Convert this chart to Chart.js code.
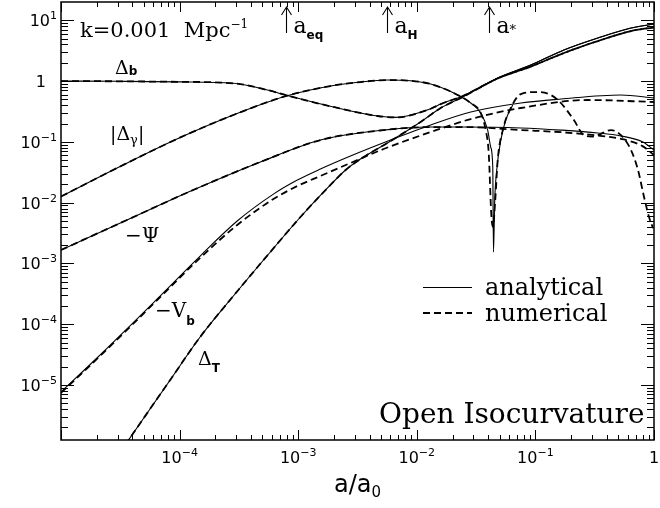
<!DOCTYPE html>
<html>
<head>
<meta charset="utf-8">
<script src="https://cdn.jsdelivr.net/npm/chart.js@4.4.1/dist/chart.umd.min.js"></script>
<style>
  html, body { margin: 0; padding: 0; background: #fff; }
</style>
</head>
<body>
<canvas id="c" width="660" height="508"></canvas>
<script>
// values (x = a/a0)
const dbX = [1e-5, 3.15e-5, 9.9e-5, 2.84e-4, 5.5e-4, 8.1e-4, 1.98e-3, 4.67e-3, 6.62e-3, 1.31e-2, 1.59e-2, 2.44e-2, 4.81e-2, 9.14e-2, 0.174, 0.336, 0.640, 1];
const dbAnal = [1.0, 0.989, 0.970, 0.917, 0.711, 0.577, 0.374, 0.266, 0.252, 0.35, 0.418, 0.567, 1.12, 1.83, 3.24, 5.10, 7.44, 8.66];
const dbNum  = [1.0, 0.989, 0.970, 0.917, 0.711, 0.577, 0.374, 0.266, 0.252, 0.35, 0.418, 0.567, 1.10, 1.73, 2.89, 4.55, 6.64, 7.64];

const dtX = [3.47e-5, 8.33e-5, 1.49e-4, 2.84e-4, 5.82e-4, 1.045e-3, 1.87e-3, 2.51e-3, 3.35e-3, 6.01e-3, 1.076e-2, 1.59e-2, 2.44e-2, 4.81e-2, 9.14e-2, 0.174, 0.336, 0.640, 1];
const dtAnal = [1.03e-6, 1.21e-5, 6.16e-5, 2.91e-4, 1.54e-3, 5.8e-3, 0.0195, 0.0344, 0.0521, 0.103, 0.212, 0.360, 0.546, 1.12, 1.83, 3.24, 5.10, 7.44, 8.66];
const dtNum  = [1.03e-6, 1.21e-5, 6.16e-5, 2.91e-4, 1.54e-3, 5.8e-3, 0.0195, 0.0344, 0.0521, 0.103, 0.212, 0.360, 0.546, 1.10, 1.73, 2.89, 4.55, 6.64, 7.64];

const dgX = [1e-5, 3.15e-5, 9.9e-5, 3.13e-4, 7.94e-4, 1.87e-3, 3.35e-3, 5.66e-3, 8.87e-3, 1.31e-2, 2.05e-2, 2.85e-2, 3.46e-2, 3.96e-2, 4.2e-2, 4.37e-2, 4.43e-2, 4.54e-2, 4.72e-2, 5.11e-2, 5.62e-2, 6.44e-2];
const dgAnal = [0.0126, 0.0393, 0.1155, 0.298, 0.567, 0.828, 0.963, 1.038, 1.01, 0.893, 0.635, 0.435, 0.298, 0.156, 0.082, 0.0385, 0.00154, 0.011, 0.0344, 0.107, 0.228, 0.403];
const dgNumX = [1e-5, 3.15e-5, 9.9e-5, 3.13e-4, 7.94e-4, 1.87e-3, 3.35e-3, 5.66e-3, 8.87e-3, 1.31e-2, 2.05e-2, 2.85e-2, 3.46e-2, 3.81e-2, 4.04e-2, 4.25e-2, 4.38e-2, 4.6e-2, 4.81e-2, 5.31e-2, 6.2e-2, 7.54e-2, 0.1047, 0.135, 0.164, 0.211, 0.256, 0.30, 0.336, 0.434, 0.526, 0.640, 0.733, 0.824, 0.908, 0.982];
const dgNum  = [0.0126, 0.0393, 0.1155, 0.298, 0.567, 0.828, 0.963, 1.038, 1.01, 0.893, 0.635, 0.435, 0.298, 0.156, 0.0654, 0.00625, 0.004, 0.012, 0.0502, 0.156, 0.36, 0.611, 0.659, 0.589, 0.435, 0.228, 0.129, 0.122, 0.129, 0.156, 0.129, 0.0733, 0.0344, 0.0124, 0.0058, 0.0038];

const psiX = [1e-5, 3.6e-5, 1.3e-4, 4.8e-4, 1.54e-3, 5.25e-3, 1.31e-2, 2.48e-2, 7.54e-2, 0.164, 0.336, 0.526, 0.8, 1];
const psiAnal = [0.00166, 0.00518, 0.0161, 0.0466, 0.107, 0.156, 0.175, 0.175, 0.169, 0.156, 0.14, 0.125, 0.1, 0.0733];
const psiNum  = [0.00166, 0.00518, 0.0161, 0.0466, 0.107, 0.156, 0.175, 0.175, 0.156, 0.144, 0.127, 0.112, 0.085, 0.0607];

const vbX = [1e-5, 2.01e-5, 4.05e-5, 6.47e-5, 1.49e-4, 3.06e-4, 6.18e-4, 9.84e-4, 1.54e-3, 2.76e-3, 6.01e-3, 1.31e-2, 2.85e-2, 7.54e-2, 0.164, 0.526, 1];
const vbAnal = [7.67e-6, 2.78e-5, 1.05e-4, 2.6e-4, 1.32e-3, 4.98e-3, 0.0138, 0.0235, 0.0357, 0.0584, 0.107, 0.189, 0.309, 0.435, 0.506, 0.589, 0.525];
const vbNumX = [1e-5, 2.01e-5, 4.05e-5, 6.47e-5, 1.49e-4, 3.06e-4, 6.18e-4, 9.84e-4, 1.54e-3, 2.76e-3, 5.25e-3, 1.31e-2, 2.85e-2, 7.54e-2, 0.277, 1];
const vbNum  = [7.4e-6, 2.68e-5, 1.01e-4, 2.5e-4, 1.23e-3, 4.28e-3, 0.01146, 0.01875, 0.0274, 0.0448, 0.0762, 0.145, 0.237, 0.36, 0.487, 0.452];

// epochs marked with arrows at the top
const epochs = [7.94e-4, 5.56e-3, 0.0404];
const epochSubs = ['eq', 'H', '*'];

const xTickExp = [-4, -3, -2, -1, 0];
const yTickExp = [-5, -4, -3, -2, -1, 0, 1];

const SERIF = '"DejaVu Serif", serif';
const SANS = '"DejaVu Sans", sans-serif';

function pts(xs, ys) {
  return xs.map((x, i) => ({ x: x, y: ys[i] }));
}

function solid(xs, ys) {
  return { data: pts(xs, ys), borderColor: '#000', borderWidth: 1.1, pointRadius: 0, fill: false, cubicInterpolationMode: 'monotone' };
}
function dashed(xs, ys) {
  return { data: pts(xs, ys), borderColor: '#000', borderWidth: 1.8, borderDash: [7, 4], pointRadius: 0, fill: false, cubicInterpolationMode: 'monotone' };
}

// draw a run of text pieces [text, font, dy]
function runText(ctx, parts, x, base) {
  let cx = x;
  for (const [t, f, dy] of parts) {
    ctx.font = f;
    ctx.fillText(t, cx, base + dy);
    cx += ctx.measureText(t).width;
  }
  return cx;
}
function runWidth(ctx, parts) {
  let w = 0;
  for (const [t, f] of parts) { ctx.font = f; w += ctx.measureText(t).width; }
  return w;
}
function powParts(e) {
  if (e === 0) return [['1', '16px ' + SANS, 0]];
  return [['10', '16px ' + SANS, 0], [String(e).replace('-', '\u2212'), '11px ' + SANS, -7]];
}

const frame = {
  id: 'frame',
  afterDatasetsDraw(chart) {
    const { ctx, chartArea: a, scales: { x, y } } = chart;
    ctx.save();
    ctx.strokeStyle = '#000';
    ctx.fillStyle = '#000';
    ctx.lineWidth = 1.5;
    ctx.strokeRect(a.left, a.top, a.right - a.left, a.bottom - a.top);

    ctx.lineWidth = 1;
    ctx.beginPath();
    for (let e = -6; e <= 1; e++) {
      for (let m = 1; m <= 9; m++) {
        const v = m * Math.pow(10, e);
        if (v >= x.min * 0.999 && v <= x.max * 1.001) {
          const px = Math.round(x.getPixelForValue(v)) + 0.5;
          const len = m === 1 ? 10 : 5;
          ctx.moveTo(px, a.bottom); ctx.lineTo(px, a.bottom - len);
          ctx.moveTo(px, a.top); ctx.lineTo(px, a.top + len);
        }
        if (v >= y.min * 0.999 && v <= y.max * 1.001) {
          const py = Math.round(y.getPixelForValue(v)) + 0.5;
          const len = m === 1 ? 13 : 7;
          ctx.moveTo(a.left, py); ctx.lineTo(a.left + len, py);
          ctx.moveTo(a.right, py); ctx.lineTo(a.right - len, py);
        }
      }
    }
    ctx.stroke();

    // tick labels
    ctx.textAlign = 'left';
    ctx.textBaseline = 'alphabetic';
    for (const e of xTickExp) {
      const p = powParts(e);
      const px = x.getPixelForValue(Math.pow(10, e));
      runText(ctx, p, px - runWidth(ctx, p) / 2, 463);
    }
    for (const e of yTickExp) {
      const p = powParts(e);
      const py = y.getPixelForValue(Math.pow(10, e));
      const right = e === 0 ? 46 : 57;
      runText(ctx, p, right - runWidth(ctx, p), py + 6);
    }

    // axis title
    const tp = [['a/a', '24px ' + SANS, 0], ['0', '15px ' + SANS, 5]];
    runText(ctx, tp, (a.left + a.right) / 2 - runWidth(ctx, tp) / 2, 492);

    // epoch arrows
    ctx.lineWidth = 1.1;
    epochs.forEach((v, i) => {
      const px = Math.round(x.getPixelForValue(v)) + 0.5;
      ctx.beginPath();
      ctx.moveTo(px, 33); ctx.lineTo(px, 7);
      ctx.moveTo(px - 5, 15); ctx.lineTo(px, 7); ctx.lineTo(px + 5, 15);
      ctx.stroke();
      const s = epochSubs[i];
      const subPart = s === '*' ? ['*', '13px ' + SERIF, 1] : [s, 'bold 12px ' + SANS, 6];
      runText(ctx, [['a', '22px ' + SERIF, 0], subPart], px + 7, 33);
    });

    // labels
    runText(ctx, [['k=0.001  Mpc', '21px ' + SERIF, 0], ['\u22121', '12px ' + SERIF, -9]], 80, 37);
    runText(ctx, [['\u0394', '19px ' + SERIF, 0], ['b', 'bold 12px ' + SANS, 1]], 115, 74);
    runText(ctx, [['|\u0394', '19px ' + SERIF, 0], ['\u03b3', '13px ' + SERIF, 4], ['|', '19px ' + SERIF, 0]], 110, 140);
    runText(ctx, [['\u2212\u03a8', '20px ' + SERIF, 0]], 125, 242);
    runText(ctx, [['\u2212V', '20px ' + SERIF, 0], ['b', 'bold 12px ' + SANS, 8]], 155, 317);
    runText(ctx, [['\u0394', '19px ' + SERIF, 0], ['T', 'bold 12px ' + SANS, 7]], 198, 365);
    runText(ctx, [['Open Isocurvature', '28px ' + SERIF, 0]], 379, 423);

    // legend
    ctx.lineWidth = 1.1;
    ctx.beginPath(); ctx.moveTo(423, 287.5); ctx.lineTo(472, 287.5); ctx.stroke();
    ctx.lineWidth = 1.8;
    ctx.setLineDash([7, 4]);
    ctx.beginPath(); ctx.moveTo(423, 313); ctx.lineTo(472, 313); ctx.stroke();
    ctx.setLineDash([]);
    runText(ctx, [['analytical', '24px ' + SERIF, 0]], 485, 295);
    runText(ctx, [['numerical', '24px ' + SERIF, 0]], 485, 321);
    ctx.restore();
  }
};

new Chart(document.getElementById('c'), {
  type: 'line',
  data: {
    datasets: [
      solid(dbX, dbAnal), dashed(dbX, dbNum),
      solid(dtX, dtAnal), dashed(dtX, dtNum),
      solid(dgX, dgAnal), dashed(dgNumX, dgNum),
      solid(psiX, psiAnal), dashed(psiX, psiNum),
      solid(vbX, vbAnal), dashed(vbNumX, vbNum)
    ]
  },
  options: {
    responsive: false,
    animation: false,
    events: [],
    layout: { padding: { left: 0, right: 6, top: 2, bottom: 0 } },
    plugins: { legend: { display: false }, tooltip: { enabled: false } },
    scales: {
      x: {
        type: 'logarithmic', min: 1e-5, max: 1,
        grid: { display: false, drawTicks: false }, border: { display: false },
        ticks: { display: false },
        afterFit: s => { s.height = 68; }
      },
      y: {
        type: 'logarithmic', min: 1.245e-6, max: 19.95,
        grid: { display: false, drawTicks: false }, border: { display: false },
        ticks: { display: false },
        afterFit: s => { s.width = 61; }
      }
    }
  },
  plugins: [frame]
});
</script>
</body>
</html>
